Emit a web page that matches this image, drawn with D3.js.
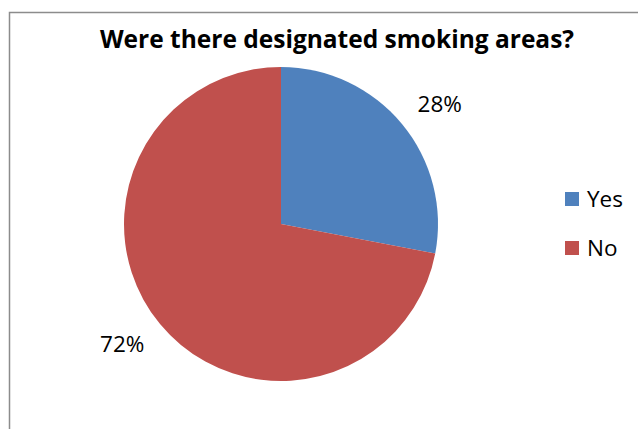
<!DOCTYPE html>
<html>
<head>
<meta charset="utf-8">
<script src="https://cdn.jsdelivr.net/npm/d3@7"></script>
<style>
  html, body { margin: 0; padding: 0; background: #fff; }
  svg { display: block; }
  text { font-family: "Open Sans", Lato, sans-serif; fill: #000; }
</style>
</head>
<body>
<svg id="chart" width="638" height="429"></svg>
<script>
// Survey answers: were there designated smoking areas?
const title = "Were there designated smoking areas?";
const categories = ["Yes", "No"];
const values = [28, 72];
const colors = ["#4F81BD", "#C0504D"];

const svg = d3.select("#chart");
const W = 638, H = 429;

// chart frame (runs off the right and bottom edges)
svg.append("rect")
  .attr("x", 9.5).attr("y", 12.5)
  .attr("width", W + 20).attr("height", H + 20)
  .attr("fill", "#fff")
  .attr("stroke", "#8c8c8c")
  .attr("stroke-width", 1.5);

svg.append("text")
  .attr("x", 337).attr("y", 48)
  .attr("text-anchor", "middle")
  .attr("font-weight", "bold")
  .attr("font-size", 24.5)
  .text(title);

const cx = 281, cy = 224, r = 157;
const data = categories.map((c, i) => ({ category: c, value: values[i] }));
const total = d3.sum(values);

const pie = d3.pie().value(d => d.value).sort(null);
const arc = d3.arc().innerRadius(0).outerRadius(r);
const color = d3.scaleOrdinal().domain(categories).range(colors);

const g = svg.append("g").attr("transform", `translate(${cx},${cy})`);
const arcs = pie(data);

g.selectAll("path.slice")
  .data(arcs)
  .join("path")
  .attr("class", "slice")
  .attr("d", arc)
  .attr("fill", d => color(d.data.category));

// outside-end percentage labels
const labelR = 199, nudge = 2.5 * Math.PI / 180;
g.selectAll("text.pct")
  .data(arcs)
  .join("text")
  .attr("class", "pct")
  .attr("x", d => labelR * Math.sin((d.startAngle + d.endAngle) / 2 + nudge))
  .attr("y", d => -labelR * Math.cos((d.startAngle + d.endAngle) / 2 + nudge))
  .attr("dy", "0.35em")
  .attr("text-anchor", "middle")
  .attr("font-size", 22.5)
  .text(d => Math.round(d.data.value / total * 100) + "%");

// legend
const legendY = d3.scalePoint().domain(categories).range([199, 248]);
const leg = svg.append("g");
leg.selectAll("rect")
  .data(categories)
  .join("rect")
  .attr("x", 565)
  .attr("y", d => legendY(d) - 7)
  .attr("width", 14).attr("height", 14)
  .attr("fill", d => color(d));
leg.selectAll("text")
  .data(categories)
  .join("text")
  .attr("x", 587)
  .attr("y", d => legendY(d))
  .attr("dy", "0.35em")
  .attr("font-size", 22.5)
  .text(d => d);
</script>
</body>
</html>
